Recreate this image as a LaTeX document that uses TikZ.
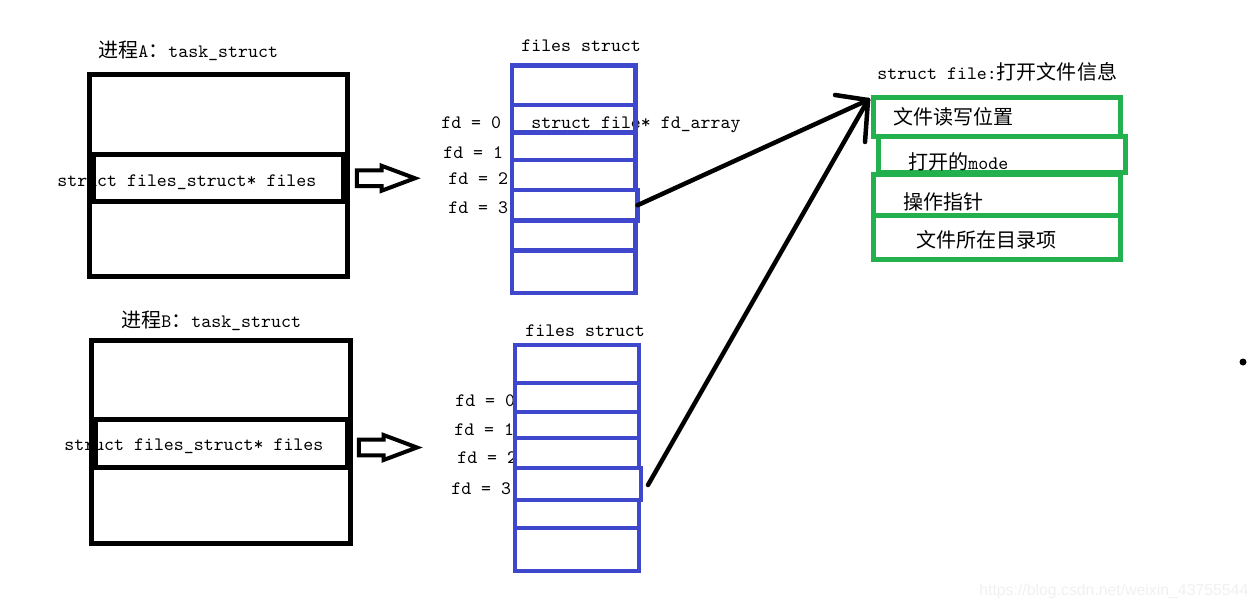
\documentclass[tikz,border=0pt]{standalone}
\usepackage{fontspec}
\setsansfont{Liberation Sans}
\newfontfamily\cjk{Noto Sans CJK SC}
\usetikzlibrary{shapes.arrows}
\definecolor{fsblue}{RGB}{63,72,204}
\definecolor{fgreen}{RGB}{34,177,76}
\newcommand{\hanzi}[1]{{\cjk\fontsize{11.4}{13}\selectfont #1}}

\begin{document}
\begin{tikzpicture}[
	x=0.02cm, y=-0.02cm, % one unit = one pixel of the sketch
	every node/.style={font=\ttfamily\fontsize{10.8}{12}\selectfont},
	lbl/.style={anchor=west, inner sep=0, text height=1.8ex, text depth=.2ex},
	taskbox/.style={draw, line width=0.1cm, inner sep=0, outer sep=0},
	fdrow/.style={draw=fsblue, line width=0.09cm, inner sep=0, outer sep=0, minimum width=2.47cm},
	filerow/.style={draw=fgreen, line width=0.1cm, inner sep=0, outer sep=0, minimum width=4.95cm},
	hollow/.style={
		single arrow, draw, line width=0.08cm, anchor=tail,
		inner xsep=0, inner ysep=0.12cm, minimum height=1.16cm,
		single arrow tip angle=41, single arrow head extend=0.09cm
	},
	ptr/.style={line width=0.09cm, line cap=round}
	]
	\useasboundingbox (0,0) rectangle (1259,608);
	
	% Process A (text first, the boxes are painted over it)
	\node[lbl] (nameA) at (98,51) {\hanzi{进程}A\hanzi{：}task\_struct};
	\node[lbl] (ptrA) at (57,180) {struct files\_struct* files};
	\node[taskbox, minimum width=5.16cm, minimum height=4.05cm] (procA) at (218.5,175.75) {};
	\node[taskbox, minimum width=5.02cm, minimum height=0.95cm] (filesA) at (218.5,177.75) {};
	\node[hollow] (arrA) at ([shift={(11,0.5)}]filesA.east) {};
	
	% Process B
	\node[lbl] (nameB) at (121,321) {\hanzi{进程}B\hanzi{：}task\_struct};
	\node[lbl] (ptrB) at (64,444) {struct files\_struct* files};
	\node[taskbox, minimum width=5.18cm, minimum height=4.07cm] (procB) at (221,441.75) {};
	\node[taskbox, minimum width=5.05cm, minimum height=0.96cm] (filesB) at (221.75,443.5) {};
	\node[hollow] (arrB) at ([shift={(9,4)}]filesB.east) {};
	
	% files struct of A
	\node[lbl] (fsA) at (521,45) {files struct};
	\node[lbl] (arrayA) at (531,122) {struct file* fd\_array};
	\node[lbl] (fdA0) at (441,122) {fd = 0};
	\node[lbl] (fdA1) at (443,152) {fd = 1};
	\node[lbl] (fdA2) at (448,178) {fd = 2};
	\node[lbl] (fdA3) at (448,207) {fd = 3};
	\foreach \i/\ya/\yb/\w in {1/65.5/105/0, 2/105/132.5/0, 3/132.5/160/0, 4/160/190/0,
		5/190/220.5/2, 6/220.5/250.5/0, 7/250.5/293/0}
		\node[fdrow, minimum width={2.47cm+\w*0.02cm}, minimum height={(\yb-\ya)*0.02cm}]
			(fa\i) at ({573.75+\w/2},{(\ya+\yb)/2}) {};
	
	% files struct of B
	\node[lbl] (fsB) at (525,330) {files struct};
	\node[lbl] (fdB0) at (455,400) {fd = 0};
	\node[lbl] (fdB1) at (454,429) {fd = 1};
	\node[lbl] (fdB2) at (457,457) {fd = 2};
	\node[lbl] (fdB3) at (451,488) {fd = 3};
	\foreach \i/\ya/\yb/\w in {1/345/383/0, 2/383/412/0, 3/412/438/0, 4/438/468/0,
		5/468/500/2, 6/500/528/0, 7/528/571/0}
		\node[fdrow, minimum width={2.48cm+\w*0.02cm}, minimum height={(\yb-\ya)*0.02cm}]
			(fb\i) at ({577+\w/2},{(\ya+\yb)/2}) {};
	
	% struct file
	\node[lbl] (fileT) at (877,73) {struct file:\hanzi{打开文件信息}};
	\foreach \i/\ya/\yb/\dx in {1/97.5/136.5/0, 2/137/173/5, 3/174.5/216/0, 4/216/259.5/0}
		\node[filerow, minimum height={(\yb-\ya)*0.02cm}]
			(fi\i) at ({997.25+\dx},{(\ya+\yb)/2}) {};
	\node[lbl] (pos) at (893,118) {\hanzi{文件读写位置}};
	\node[lbl] (mode) at (908,163) {\hanzi{打开的}mode};
	\node[lbl] (ops) at (903,203) {\hanzi{操作指针}};
	\node[lbl] (dent) at (916,241) {\hanzi{文件所在目录项}};
	
	% fd = 3 of both processes -> same struct file
	\coordinate (tip) at ([shift={(-5.5,2.5)}]fi1.north west);
	\draw[ptr] (fa5.east) -- (tip);
	\draw[ptr] ([shift={(7,1)}]fb5.east) -- (tip);
	\draw[ptr] (tip) -- ++(-33,-5);
	\draw[ptr] (tip) -- ++(-3,42);
	
	\fill (1243,362) circle (0.07cm);
	\node[lbl, font=\sffamily\fontsize{9}{10}\selectfont, text=black!6] (wm) at (979,589)
		{https://blog.csdn.net/weixin\_43755544};
\end{tikzpicture}
\end{document}
